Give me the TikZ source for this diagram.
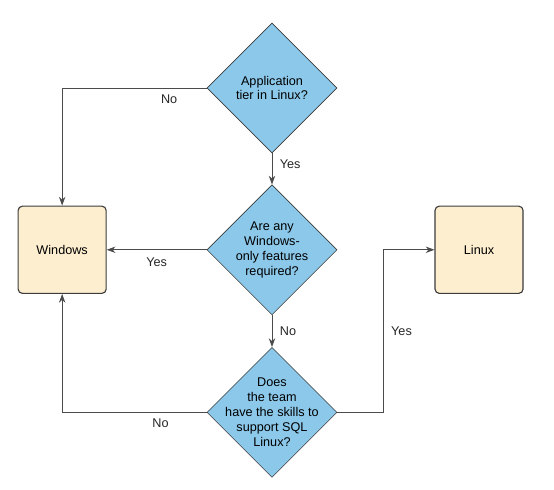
\documentclass[tikz,border=0pt]{standalone}
\usepackage{fontspec}
\setmainfont{Liberation Sans}
\usepackage{tikz}
\usetikzlibrary{
  shapes.geometric,
  arrows.meta,
  positioning, calc
}
\definecolor{decblue}{RGB}{140,200,234}
\definecolor{boxcream}{RGB}{253,238,208}
\definecolor{edgegray}{RGB}{60,60,60}
\definecolor{linegray}{RGB}{75,75,75}
\tikzset{
  decnode/.style={diamond,draw=edgegray,fill=decblue,aspect=1,inner sep=-0.6cm,align=center,font=\fontsize{9}{10.6}\selectfont,minimum width=3.25cm,minimum height=3.25cm},
  osnode/.style={rectangle,rounded corners=3pt,draw=edgegray,fill=boxcream,thick,align=center,font=\fontsize{9}{10.5}\selectfont,minimum width=2.2cm,minimum height=2.18cm},
  arr/.style={-{Stealth[length=2.2mm,width=1.6mm]},color=linegray,line width=0.6pt},
  lbl/.style={font=\fontsize{9}{10.5}\selectfont,text=black!85}
}

\begin{document}
\begin{tikzpicture}[node distance=0.78cm and 2.5cm]
  \useasboundingbox (-6.8,2.2) rectangle (7.05,-10.025);
  \node[decnode] (app) at (0,0) {Application\\tier in Linux?};
  \node[decnode,below=of app] (feat) {Are any\\Windows-\\only features\\required?};
  \node[decnode,below=0.8cm of feat] (team) {Does\\the team\\have the skills to\\support SQL\\Linux?};
  \node[osnode,left=of feat] (win) {Windows};
  \node[osnode,right=2.43cm of feat] (lin) {Linux};
  \draw[arr] (app.west) -| (win.north) node[lbl,pos=0.13,below=1pt] {No};
  \draw[arr] (app.south) -- (feat.north) node[lbl,pos=0.35,right=2pt] {Yes};
  \draw[arr] (feat.west) -- (win.east) node[lbl,midway,below=2pt] {Yes};
  \draw[arr] (feat.south) -- (team.north) node[lbl,midway,right=2pt] {No};
  \draw[arr] (team.west) -| (win.south) node[lbl,pos=0.16,below=1pt] {No};
  \draw[arr] (team.east) -- ++(1.15,0) |- (lin.west) node[lbl,pos=0.25,right=2pt] {Yes};
\end{tikzpicture}
\end{document}
